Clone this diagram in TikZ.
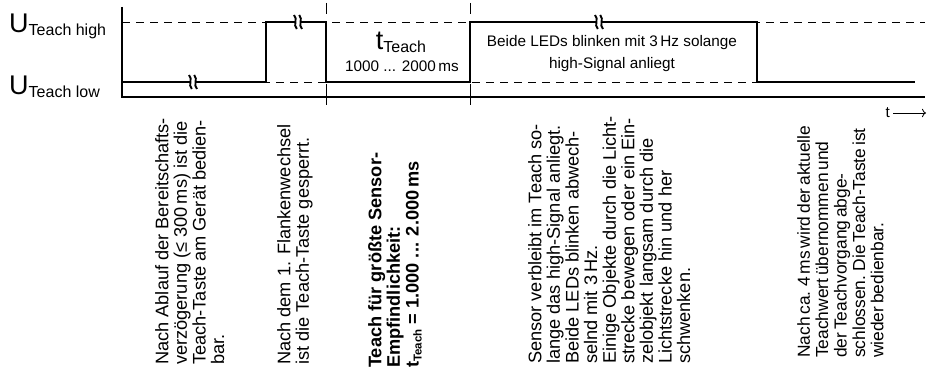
\documentclass[tikz,border=0pt]{standalone}
\usepackage{fontspec}
\setmainfont{Liberation Sans}
\usepackage{tikz}
\usetikzlibrary{arrows.meta,positioning}

% big letter with lowered index, as in the level labels
\newcommand\bigidx[2]{{\fontsize{27}{27}\selectfont #1}\raisebox{-3pt}{\fontsize{16}{16}\selectfont #2}}
\newcommand\tightsp{\spaceskip=0.16em\relax}

\tikzset{
  brk/.pic={
    \fill[white] (-2.6,-2.6) rectangle (2.6,2.6);
    \foreach \dx in {-2.6,2.6}
      \draw[line width=1.9pt] (\dx-1.4,-7) .. controls (\dx+2.8,-3) and (\dx-2.8,3) .. (\dx+1.4,7);
  }
}

\begin{document}
\begin{tikzpicture}[x=1pt, y=-1pt,
  sig/.style={line width=2.6pt, line join=miter},
  lvl/.style={line width=0.9pt, dash pattern=on 8pt off 6pt},
  ax/.style={line width=1.1pt},
  tickline/.style={line width=0.9pt},
  note/.style={rotate=90, anchor=north west, align=left, inner sep=0pt, font=\fontsize{18.2}{18.6}\selectfont},
  lbl/.style={inner sep=0pt, font=\fontsize{15.3}{15.3}\selectfont}]
  \useasboundingbox (0,0) rectangle (927,374);

  % axes and levels
  \coordinate (o) at (122,97);
  \draw[ax] (122,7) -- (o) -- (925,97);
  \draw[lvl] (122,22) -- (925,22);
  \draw[lvl] (122,82) -- (915,82);
  \foreach \x in {326,470} {
    \draw[tickline] (\x,3) -- (\x,14);
    \draw[tickline] (\x,84) -- (\x,105);
  }

  % signal
  \draw[sig] (122,82) -- (266,82) -- (266,22) -- (326,22) -- (326,82) -- (470,82)
    -- (470,22) -- (757,22) -- (757,82) -- (915,82);
  \pic at (193,82) {brk};
  \pic at (298,22) {brk};
  \pic at (599,22) {brk};

  % level labels
  \node[anchor=base west, inner sep=0pt] (uhi) at (9,33) {\bigidx{U}{Teach high}};
  \node[anchor=base west, inner sep=0pt] (ulo) at (9,95) {\bigidx{U}{Teach low}};
  \node[anchor=base, inner sep=0pt] (tt) at (401,50) {\bigidx{t}{Teach}};
  \node[lbl, anchor=base] (ttr) at (402,72) {1000 ... 2000\,ms};
  \node[lbl, anchor=base] (led1) at (612,47) {Beide LEDs blinken mit 3\,Hz solange};
  \node[lbl, anchor=base] (led2) at (612,69) {high-Signal anliegt};

  % time arrow
  \coordinate (ta) at (893,113);
  \coordinate (tb) at (926,113);
  \draw[line width=0.8pt, -{To[length=4pt]}] (ta) -- (tb);
  \node[lbl, left=3pt of ta] (tl) {t};

  % notes
  \node[note] (n1) at (155,365) {Nach Ablauf der Bereitschafts-\\verzögerung (≤ 300\,ms) ist die\\Teach-Taste am Gerät bedien-\\bar.};
  \node[note] (n2) at (277,365) {Nach dem 1. Flankenwechsel\\ist die Teach-Taste gesperrt.};
  \node[note, font=\fontsize{18.2}{18.6}\selectfont\bfseries] (n3) at (368,368) {Teach für größte Sensor-\\Empfindlichkeit:\\t\raisebox{-3pt}{\fontsize{11.5}{11.5}\selectfont Teach} = 1.000 ... 2.000\,ms};
  \node[note] (n4) at (528,364) {Sensor verbleibt im Teach so-\\lange das high-Signal anliegt.\\Beide LEDs blinken abwech-\\selnd mit 3\,Hz.\\Einige Objekte durch die Licht-\\strecke bewegen oder ein Ein-\\zelobjekt langsam durch die\\Lichtstrecke hin und her\\schwenken.};
  \node[note, font={\fontsize{17.4}{18.4}\selectfont\tightsp}] (n5) at (797,358) {Nach ca. 4\,ms wird der aktuelle\\Teachwert übernommen und\\der Teachvorgang abge-\\schlossen. Die Teach-Taste ist\\wieder bedienbar.};
\end{tikzpicture}
\end{document}
